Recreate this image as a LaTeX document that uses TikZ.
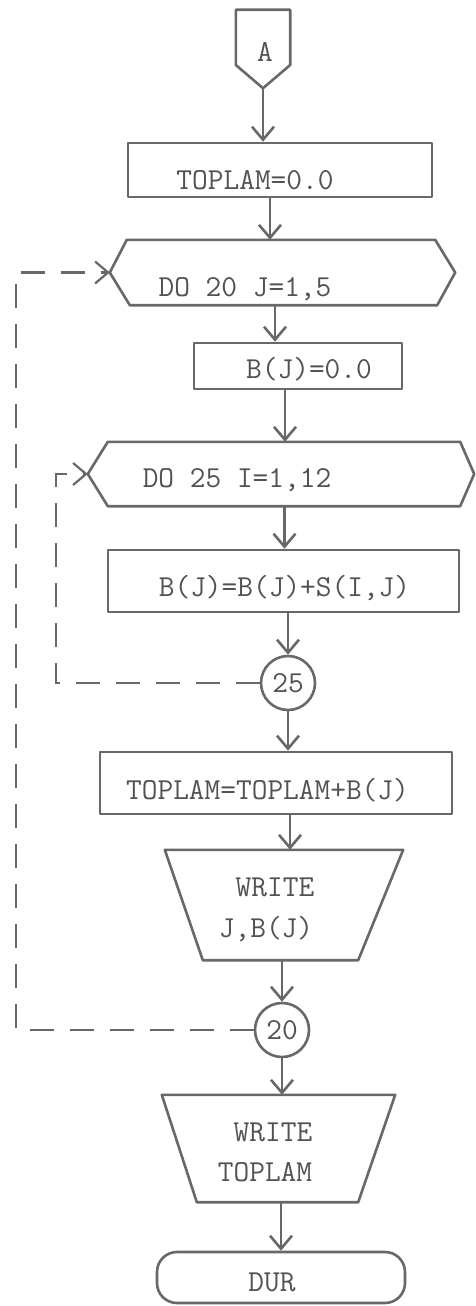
\documentclass[tikz,border=0pt]{standalone}
\usepackage{fontspec}
\setmonofont{Latin Modern Mono}
\usetikzlibrary{arrows.meta}
\definecolor{ink}{RGB}{104,104,104}
\definecolor{typeink}{RGB}{82,82,82}
\begin{document}
\begin{tikzpicture}[x=1pt,y=-1pt,
  ln/.style={draw=ink, line width=2.6pt, line join=round},
  box/.style={ln, rectangle, inner sep=0pt},
  shell/.style={rectangle, inner sep=0pt, draw=none},
  conn/.style={circle, draw=ink, line width=2.6pt, minimum size=54pt, inner sep=0pt},
  arr/.style={draw=ink, line width=2.6pt, -{Straight Barb[length=13pt,width=22pt]}},
  dl/.style={draw=ink, line width=2.2pt, dash pattern=on 24pt off 16pt,
             -{Straight Barb[length=13pt,width=22pt]}},
  txt/.style={inner sep=0pt, anchor=base, text=typeink,
              font=\fontsize{30.5}{32}\selectfont\ttfamily}]
\fill[white] (0,0) rectangle (475,1306);
\useasboundingbox (0,0) rectangle (475,1306);

% off-page connector
\node[shell, minimum width=54pt, minimum height=78pt] (A) at (263,49) {};
\draw[ln] (A.north west) -- (A.north east) -- ([yshift=-16pt]A.east)
  -- (A.south) -- ([yshift=-16pt]A.west) -- cycle;
\node[txt] (tA) at (265,62) {A};

% TOPLAM=0.0
\node[box, minimum width=304pt, minimum height=54pt] (t1) at (280,170) {};
\node[txt] (tt1) at (255,189) {TOPLAM=0.0};

% DO 20 loop head
\node[shell, minimum width=345pt, minimum height=65pt] (do20) at (282.5,272.5) {};
\draw[ln] ([xshift=17pt]do20.north west) -- ([xshift=-20pt]do20.north east)
  -- (do20.east) -- ([xshift=-18pt]do20.south east)
  -- ([xshift=20pt]do20.south west) -- (do20.west) -- cycle;
\node[txt] (tdo20) at (245,296) {DO 20 J=1,5};

% B(J)=0.0
\node[box, minimum width=208pt, minimum height=46pt] (b0) at (298,366) {};
\node[txt] (tb0) at (309,378) {B(J)=0.0};

% DO 25 loop head
\node[shell, minimum width=386pt, minimum height=64pt] (do25) at (281,474) {};
\draw[ln] ([xshift=20pt]do25.north west) -- ([xshift=-14pt]do25.north east)
  -- (do25.east) -- ([xshift=-14pt]do25.south east)
  -- ([xshift=20pt]do25.south west) -- (do25.west) -- cycle;
\node[txt] (tdo25) at (237,487) {DO 25 I=1,12};

% B(J)=B(J)+S(I,J)
\node[box, minimum width=351pt, minimum height=62pt] (bs) at (283.5,581) {};
\node[txt] (tbs) at (284.5,596) {B(J)=B(J)+S(I,J)};

% connector 25
\node[conn] (c25) at (288,683) {};
\node[txt] (t25) at (288,692) {25};

% TOPLAM=TOPLAM+B(J)
\node[box, minimum width=352pt, minimum height=62pt] (ts) at (276,783) {};
\node[txt] (tts) at (267.5,799) {TOPLAM=TOPLAM+B(J)};

% WRITE J,B(J)
\node[shell, minimum width=238pt, minimum height=110pt] (w1) at (284,905) {};
\draw[ln] (w1.north west) -- (w1.north east) -- ([xshift=-45pt]w1.south east)
  -- ([xshift=38pt]w1.south west) -- cycle;
\node[txt] (tw1a) at (275,896) {WRITE};
\node[txt] (tw1b) at (266,937) {J,B(J)};

% connector 20
\node[conn] (c20) at (282,1030) {};
\node[txt] (t20) at (282,1039) {20};

% WRITE TOPLAM
\node[shell, minimum width=233pt, minimum height=107pt] (w2) at (278.5,1148.5) {};
\draw[ln] (w2.north west) -- (w2.north east) -- ([xshift=-37pt]w2.south east)
  -- ([xshift=35pt]w2.south west) -- cycle;
\node[txt] (tw2a) at (273,1141) {WRITE};
\node[txt] (tw2b) at (265,1181) {TOPLAM};

% terminal
\node[box, rounded corners=20pt, minimum width=248pt, minimum height=51pt] (dur) at (281,1277.5) {};
\node[txt] (tdur) at (272,1291) {DUR};

% flow lines
\draw[arr] (A.south) -- (A.south |- t1.north);
\draw[arr] ([xshift=-10pt]t1.south) -- ([xshift=-10pt]t1.south |- do20.north);
\draw[arr] ([xshift=-7.5pt]do20.south) -- ([xshift=-7.5pt]do20.south |- b0.north);
\draw[arr] ([xshift=-13pt]b0.south) -- ([xshift=-13pt]b0.south |- do25.north);
\draw[arr] ([xshift=3.5pt]do25.south) -- ([xshift=3.5pt]do25.south |- bs.north);
\draw[arr] (c25.north |- bs.south) -- (c25.north);
\draw[arr] (c25.south) -- (c25.south |- ts.north);
\draw[arr] ([xshift=14pt]ts.south) -- ([xshift=14pt]ts.south |- w1.north);
\draw[arr] (c20.north |- w1.south) -- (c20.north);
\draw[arr] (c20.south) -- (c20.south |- w2.north);
\draw[arr] (dur.north |- w2.south) -- (dur.north);

% loop-back lines
\coordinate (i1) at (56,683);
\coordinate (i2) at (56,474);
\draw[dl] (c25.west) -- (i1) -- (i2) -- (do25.west);
\coordinate (o1) at (16,1030);
\coordinate (o2) at (16,272.5);
\draw[dl] (c20.west) -- (o1) -- (o2) -- (do20.west);
\end{tikzpicture}
\end{document}
